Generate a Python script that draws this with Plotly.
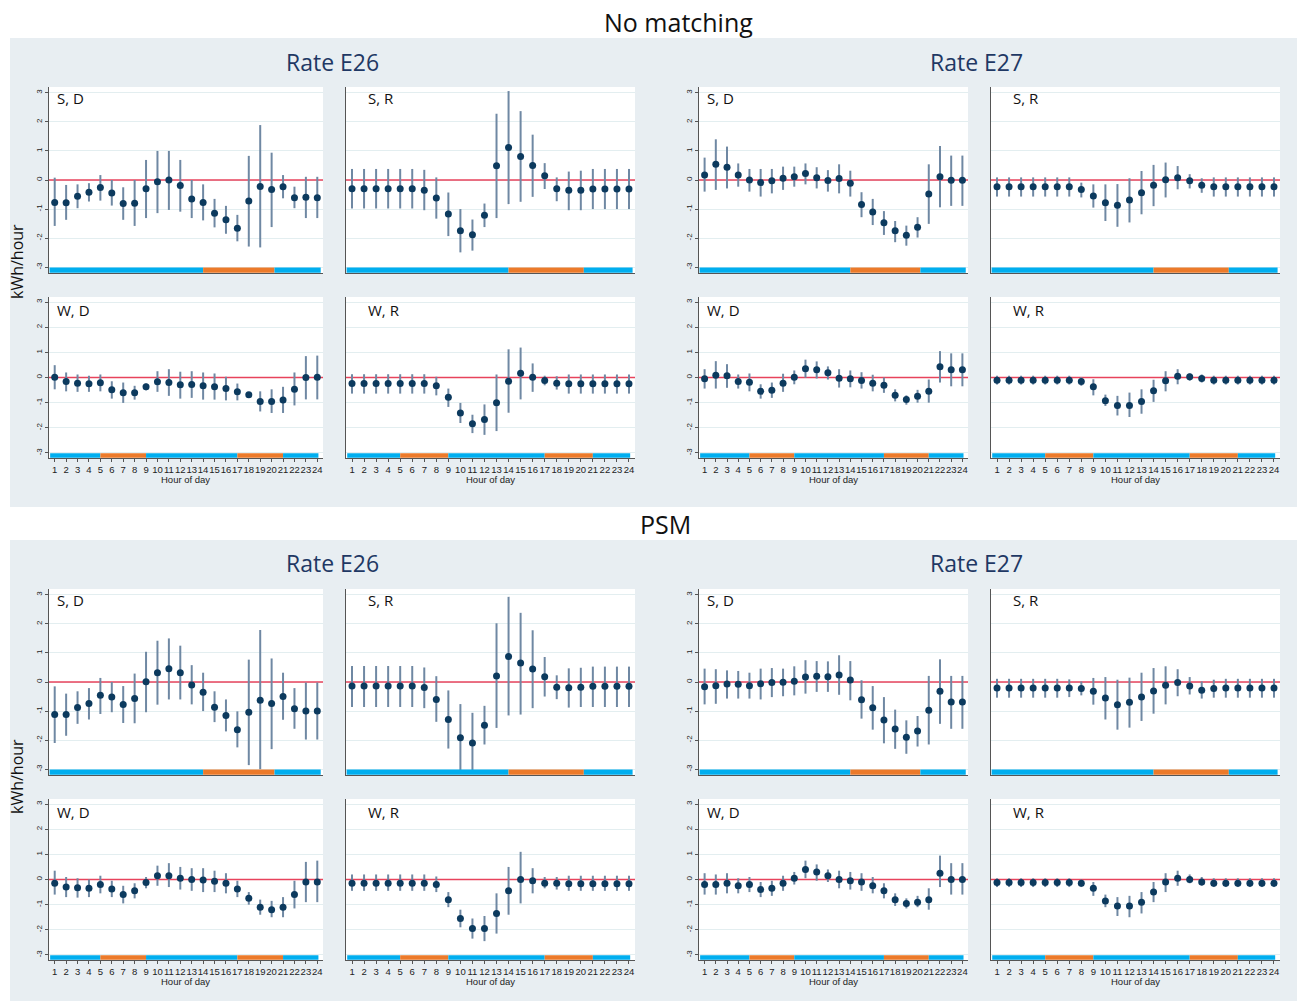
import numpy as np
import plotly.graph_objects as go

W, H = 1298, 1001
hours = list(range(1, 25))
hour_labels = [str(h) for h in hours]
y_ticks = [-3, -2, -1, 0, 1, 2, 3]
y_tick_labels = ["-3", "-2", "-1", "0", "1", "2", "3"]
x_span = [0.5, 24.5]
zero_ref = [0, 0]

section_titles = ["No matching", "PSM"]
rate_titles = ["Rate E26", "Rate E27"]
panel_labels = [["S, D", "S, R", "S, D", "S, R"], ["W, D", "W, R", "W, D", "W, R"]]

# Tariff periods (start hour, end hour, period)
summer_periods = [(0.55, 14.0, "off"), (14.0, 20.25, "on"), (20.25, 24.3, "off")]
winter_periods = [(0.6, 5.0, "off"), (5.0, 9.0, "on"), (9.0, 17.0, "off"), (17.0, 21.0, "on"), (21.0, 24.1, "off")]

# ---------------- No matching ----------------
nm_e26_sd_est = [-0.77, -0.78, -0.56, -0.42, -0.26, -0.45, -0.81, -0.80, -0.30, -0.06, 0.00, -0.19, -0.65, -0.77, -1.14, -1.37, -1.66, -0.72, -0.22, -0.33, -0.23, -0.61, -0.59, -0.61]
nm_e26_sd_lo = [-1.58, -1.37, -0.97, -0.74, -0.71, -0.88, -1.37, -1.58, -1.31, -1.14, -1.03, -1.09, -1.31, -1.39, -1.63, -1.85, -2.11, -2.29, -2.32, -1.62, -0.63, -0.97, -1.31, -1.31]
nm_e26_sd_hi = [0.08, -0.17, -0.15, -0.11, 0.17, 0.00, -0.25, 0.00, 0.69, 1.00, 1.00, 0.69, 0.00, -0.15, -0.65, -0.89, -1.20, 0.83, 1.89, 0.94, 0.17, -0.23, 0.11, 0.11]

nm_e26_sr_est = [-0.30, -0.30, -0.30, -0.30, -0.30, -0.30, -0.35, -0.62, -1.17, -1.75, -1.88, -1.21, 0.49, 1.12, 0.81, 0.50, 0.15, -0.30, -0.35, -0.35, -0.31, -0.31, -0.31, -0.31]
nm_e26_sr_lo = [-0.98, -0.98, -0.98, -0.98, -0.98, -0.98, -1.04, -1.33, -1.93, -2.49, -2.43, -1.62, -1.31, -0.83, -0.75, -0.58, -0.31, -0.73, -1.04, -1.04, -1.00, -1.00, -1.00, -1.00]
nm_e26_sr_hi = [0.38, 0.38, 0.38, 0.38, 0.38, 0.38, 0.35, 0.09, -0.43, -1.00, -1.36, -0.81, 2.28, 3.06, 2.37, 1.56, 0.58, 0.09, 0.29, 0.32, 0.38, 0.38, 0.38, 0.38]

nm_e27_sd_est = [0.17, 0.54, 0.44, 0.17, 0.00, -0.09, -0.03, 0.06, 0.11, 0.22, 0.08, -0.02, 0.05, -0.11, -0.84, -1.10, -1.47, -1.75, -1.90, -1.63, -0.48, 0.11, -0.01, -0.01]
nm_e27_sd_lo = [-0.40, -0.34, -0.29, -0.23, -0.40, -0.57, -0.46, -0.34, -0.23, -0.15, -0.29, -0.40, -0.46, -0.57, -1.28, -1.55, -1.89, -2.14, -2.26, -1.98, -1.51, -0.94, -0.89, -0.89]
nm_e27_sd_hi = [0.77, 1.40, 1.15, 0.57, 0.38, 0.38, 0.38, 0.46, 0.46, 0.57, 0.44, 0.34, 0.54, 0.32, -0.42, -0.65, -1.07, -1.41, -1.57, -1.28, 0.54, 1.17, 0.84, 0.84]

nm_e27_sr_est = [-0.23, -0.23, -0.23, -0.23, -0.23, -0.23, -0.23, -0.33, -0.55, -0.78, -0.87, -0.69, -0.44, -0.18, 0.01, 0.08, -0.03, -0.18, -0.23, -0.23, -0.23, -0.23, -0.23, -0.23]
nm_e27_sr_lo = [-0.57, -0.57, -0.57, -0.57, -0.57, -0.57, -0.57, -0.60, -0.95, -1.41, -1.61, -1.46, -1.18, -0.90, -0.60, -0.32, -0.29, -0.44, -0.57, -0.57, -0.57, -0.57, -0.57, -0.57]
nm_e27_sr_hi = [0.09, 0.09, 0.09, 0.09, 0.09, 0.09, 0.09, -0.09, -0.15, -0.15, -0.14, 0.06, 0.31, 0.52, 0.60, 0.48, 0.20, 0.06, 0.09, 0.09, 0.09, 0.09, 0.09, 0.09]

nm_e26_wd_est = [0.01, -0.16, -0.23, -0.25, -0.21, -0.49, -0.61, -0.61, -0.37, -0.17, -0.20, -0.29, -0.28, -0.33, -0.37, -0.44, -0.57, -0.69, -0.95, -0.95, -0.89, -0.47, 0.00, 0.01]
nm_e26_wd_lo = [-0.47, -0.55, -0.57, -0.57, -0.55, -0.84, -1.01, -0.88, -0.51, -0.57, -0.73, -0.84, -0.81, -0.88, -0.88, -0.91, -0.91, -0.80, -1.35, -1.41, -1.41, -1.11, -0.87, -0.87]
nm_e26_wd_hi = [0.49, 0.20, 0.12, 0.07, 0.12, -0.15, -0.20, -0.33, -0.24, 0.25, 0.33, 0.23, 0.25, 0.20, 0.16, 0.03, -0.24, -0.60, -0.55, -0.47, -0.37, 0.20, 0.85, 0.87]

nm_e26_wr_est = [-0.24, -0.24, -0.24, -0.24, -0.24, -0.24, -0.24, -0.33, -0.79, -1.41, -1.84, -1.67, -1.00, -0.15, 0.17, 0.01, -0.12, -0.23, -0.25, -0.25, -0.25, -0.25, -0.25, -0.25]
nm_e26_wr_lo = [-0.64, -0.64, -0.64, -0.64, -0.64, -0.64, -0.64, -0.71, -1.17, -1.81, -2.21, -2.28, -2.13, -1.40, -0.87, -0.57, -0.31, -0.48, -0.64, -0.64, -0.64, -0.64, -0.64, -0.64]
nm_e26_wr_hi = [0.13, 0.13, 0.13, 0.13, 0.13, 0.13, 0.13, 0.03, -0.44, -1.01, -1.48, -1.07, 0.12, 1.12, 1.19, 0.56, 0.07, 0.05, 0.12, 0.12, 0.12, 0.12, 0.12, 0.12]

nm_e27_wd_est = [-0.05, 0.09, 0.07, -0.16, -0.19, -0.55, -0.51, -0.23, 0.01, 0.35, 0.31, 0.19, -0.03, -0.05, -0.12, -0.23, -0.31, -0.71, -0.87, -0.75, -0.55, 0.43, 0.31, 0.31]
nm_e27_wd_lo = [-0.44, -0.44, -0.41, -0.44, -0.55, -0.84, -0.81, -0.57, -0.27, -0.01, -0.04, -0.08, -0.40, -0.39, -0.44, -0.55, -0.61, -0.95, -1.08, -1.00, -1.00, -0.20, -0.35, -0.35]
nm_e27_wd_hi = [0.33, 0.65, 0.53, 0.12, 0.16, -0.27, -0.20, 0.15, 0.28, 0.71, 0.64, 0.44, 0.33, 0.28, 0.21, 0.11, 0.00, -0.47, -0.71, -0.49, -0.08, 1.05, 0.96, 0.96]

nm_e27_wr_est = [-0.11, -0.11, -0.11, -0.11, -0.11, -0.11, -0.11, -0.16, -0.37, -0.92, -1.11, -1.11, -0.95, -0.53, -0.13, 0.05, 0.03, -0.04, -0.11, -0.11, -0.11, -0.11, -0.11, -0.11]
nm_e27_wr_lo = [-0.28, -0.28, -0.28, -0.28, -0.28, -0.28, -0.28, -0.33, -0.71, -1.13, -1.51, -1.57, -1.44, -0.97, -0.55, -0.27, -0.13, -0.20, -0.28, -0.28, -0.28, -0.28, -0.28, -0.28]
nm_e27_wr_hi = [0.07, 0.07, 0.07, 0.07, 0.07, 0.07, 0.07, 0.01, -0.07, -0.68, -0.73, -0.60, -0.47, -0.09, 0.25, 0.33, 0.16, 0.12, 0.07, 0.07, 0.07, 0.07, 0.07, 0.07]

# ---------------- PSM ----------------
psm_e26_sd_est = [-1.12, -1.12, -0.88, -0.74, -0.46, -0.52, -0.77, -0.57, 0.01, 0.32, 0.46, 0.32, -0.10, -0.35, -0.87, -1.15, -1.64, -1.04, -0.63, -0.74, -0.50, -0.92, -1.00, -1.00]
psm_e26_sd_lo = [-2.10, -1.85, -1.44, -1.29, -1.10, -1.04, -1.41, -1.42, -1.04, -0.78, -0.60, -0.60, -0.77, -1.00, -1.38, -1.70, -2.25, -2.86, -3.00, -2.31, -1.30, -1.61, -1.98, -1.98]
psm_e26_sd_hi = [-0.15, -0.40, -0.32, -0.21, 0.14, 0.00, -0.14, 0.29, 1.04, 1.42, 1.50, 1.25, 0.58, 0.32, -0.32, -0.60, -1.01, 0.77, 1.79, 0.81, 0.32, -0.21, -0.02, -0.02]

psm_e26_sr_est = [-0.14, -0.14, -0.14, -0.14, -0.14, -0.14, -0.19, -0.60, -1.29, -1.92, -2.10, -1.49, 0.21, 0.88, 0.65, 0.45, 0.18, -0.18, -0.20, -0.18, -0.15, -0.15, -0.15, -0.15]
psm_e26_sr_lo = [-0.86, -0.86, -0.86, -0.86, -0.86, -0.86, -0.90, -1.37, -2.29, -3.08, -3.13, -2.15, -1.58, -1.15, -1.12, -0.90, -0.50, -0.59, -0.88, -0.86, -0.86, -0.86, -0.86, -0.86]
psm_e26_sr_hi = [0.55, 0.55, 0.55, 0.55, 0.55, 0.55, 0.50, 0.20, -0.29, -0.76, -1.06, -0.82, 2.02, 2.93, 2.38, 1.78, 0.86, 0.23, 0.47, 0.49, 0.53, 0.53, 0.53, 0.53]

psm_e27_sd_est = [-0.16, -0.13, -0.07, -0.08, -0.13, -0.06, -0.02, -0.01, 0.03, 0.17, 0.20, 0.18, 0.24, 0.07, -0.61, -0.89, -1.31, -1.62, -1.90, -1.69, -0.97, -0.32, -0.69, -0.69]
psm_e27_sd_lo = [-0.77, -0.75, -0.57, -0.57, -0.57, -0.60, -0.52, -0.49, -0.46, -0.40, -0.34, -0.34, -0.44, -0.63, -1.26, -1.64, -2.11, -2.30, -2.47, -2.22, -2.15, -1.44, -1.61, -1.61]
psm_e27_sd_hi = [0.46, 0.44, 0.40, 0.38, 0.32, 0.46, 0.48, 0.46, 0.54, 0.75, 0.72, 0.71, 0.92, 0.72, 0.06, -0.14, -0.52, -0.95, -1.32, -1.17, 0.21, 0.78, 0.21, 0.21]

psm_e27_sr_est = [-0.21, -0.21, -0.21, -0.21, -0.21, -0.21, -0.21, -0.22, -0.32, -0.55, -0.78, -0.70, -0.52, -0.31, -0.11, -0.02, -0.14, -0.28, -0.22, -0.21, -0.21, -0.21, -0.21, -0.21]
psm_e27_sr_lo = [-0.54, -0.54, -0.54, -0.54, -0.54, -0.54, -0.52, -0.46, -0.78, -1.29, -1.64, -1.57, -1.34, -1.09, -0.77, -0.49, -0.43, -0.57, -0.54, -0.54, -0.54, -0.54, -0.54, -0.54]
psm_e27_sr_hi = [0.11, 0.11, 0.11, 0.11, 0.11, 0.11, 0.09, 0.02, 0.14, 0.17, 0.08, 0.15, 0.32, 0.48, 0.54, 0.44, 0.17, 0.02, 0.08, 0.11, 0.11, 0.11, 0.11, 0.11]

psm_e26_wd_est = [-0.15, -0.30, -0.33, -0.35, -0.20, -0.38, -0.60, -0.45, -0.12, 0.15, 0.15, 0.05, 0.00, -0.02, -0.07, -0.15, -0.38, -0.75, -1.10, -1.20, -1.10, -0.60, -0.10, -0.10]
psm_e26_wd_lo = [-0.60, -0.70, -0.72, -0.70, -0.55, -0.70, -0.95, -0.75, -0.35, -0.25, -0.30, -0.40, -0.45, -0.50, -0.50, -0.55, -0.70, -1.00, -1.40, -1.50, -1.50, -1.15, -0.90, -0.90]
psm_e26_wd_hi = [0.35, 0.10, 0.05, 0.00, 0.15, -0.05, -0.25, -0.15, 0.10, 0.55, 0.65, 0.50, 0.45, 0.45, 0.35, 0.25, -0.05, -0.50, -0.80, -0.85, -0.70, -0.05, 0.70, 0.75]

psm_e26_wr_est = [-0.15, -0.15, -0.15, -0.15, -0.15, -0.15, -0.15, -0.20, -0.80, -1.55, -1.95, -1.95, -1.35, -0.45, 0.00, -0.05, -0.15, -0.15, -0.17, -0.17, -0.17, -0.17, -0.17, -0.17]
psm_e26_wr_lo = [-0.45, -0.45, -0.45, -0.45, -0.45, -0.45, -0.45, -0.50, -1.10, -1.90, -2.35, -2.45, -2.15, -1.40, -0.95, -0.55, -0.35, -0.40, -0.45, -0.45, -0.45, -0.45, -0.45, -0.45]
psm_e26_wr_hi = [0.20, 0.20, 0.20, 0.20, 0.20, 0.20, 0.20, 0.12, -0.50, -1.20, -1.55, -1.45, -0.55, 0.50, 1.10, 0.45, 0.10, 0.10, 0.15, 0.15, 0.15, 0.15, 0.15, 0.15]

psm_e27_wd_est = [-0.20, -0.20, -0.15, -0.25, -0.20, -0.40, -0.35, -0.15, 0.05, 0.40, 0.30, 0.15, 0.00, -0.05, -0.10, -0.25, -0.45, -0.80, -0.95, -0.90, -0.80, 0.25, 0.00, 0.00]
psm_e27_wd_lo = [-0.60, -0.60, -0.55, -0.55, -0.50, -0.70, -0.65, -0.45, -0.20, 0.05, -0.05, -0.10, -0.35, -0.40, -0.45, -0.55, -0.75, -1.05, -1.15, -1.10, -1.20, -0.30, -0.60, -0.60]
psm_e27_wd_hi = [0.25, 0.20, 0.25, 0.05, 0.10, -0.10, -0.05, 0.15, 0.30, 0.75, 0.60, 0.40, 0.35, 0.30, 0.25, 0.10, -0.15, -0.55, -0.75, -0.65, -0.35, 0.95, 0.65, 0.65]

psm_e27_wr_est = [-0.12, -0.12, -0.12, -0.12, -0.12, -0.12, -0.12, -0.15, -0.35, -0.85, -1.05, -1.05, -0.90, -0.50, -0.10, 0.05, 0.00, -0.10, -0.15, -0.15, -0.15, -0.15, -0.15, -0.15]
psm_e27_wr_lo = [-0.30, -0.30, -0.30, -0.30, -0.30, -0.30, -0.30, -0.30, -0.65, -1.10, -1.45, -1.50, -1.35, -0.90, -0.50, -0.25, -0.15, -0.25, -0.30, -0.30, -0.30, -0.30, -0.30, -0.30]
psm_e27_wr_hi = [0.05, 0.05, 0.05, 0.05, 0.05, 0.05, 0.05, 0.00, -0.10, -0.60, -0.70, -0.65, -0.50, -0.10, 0.25, 0.35, 0.20, 0.10, 0.05, 0.05, 0.05, 0.05, 0.05, 0.05]

# panel table: [half][row][col] -> (est, lo, hi)
panel_data = [
    [
        [(nm_e26_sd_est, nm_e26_sd_lo, nm_e26_sd_hi), (nm_e26_sr_est, nm_e26_sr_lo, nm_e26_sr_hi),
         (nm_e27_sd_est, nm_e27_sd_lo, nm_e27_sd_hi), (nm_e27_sr_est, nm_e27_sr_lo, nm_e27_sr_hi)],
        [(nm_e26_wd_est, nm_e26_wd_lo, nm_e26_wd_hi), (nm_e26_wr_est, nm_e26_wr_lo, nm_e26_wr_hi),
         (nm_e27_wd_est, nm_e27_wd_lo, nm_e27_wd_hi), (nm_e27_wr_est, nm_e27_wr_lo, nm_e27_wr_hi)],
    ],
    [
        [(psm_e26_sd_est, psm_e26_sd_lo, psm_e26_sd_hi), (psm_e26_sr_est, psm_e26_sr_lo, psm_e26_sr_hi),
         (psm_e27_sd_est, psm_e27_sd_lo, psm_e27_sd_hi), (psm_e27_sr_est, psm_e27_sr_lo, psm_e27_sr_hi)],
        [(psm_e26_wd_est, psm_e26_wd_lo, psm_e26_wd_hi), (psm_e26_wr_est, psm_e26_wr_lo, psm_e26_wr_hi),
         (psm_e27_wd_est, psm_e27_wd_lo, psm_e27_wd_hi), (psm_e27_wr_est, psm_e27_wr_lo, psm_e27_wr_hi)],
    ],
]

# ---------------- layout geometry (pixels) ----------------
col_px = [(49, 323), (346, 635), (699, 968), (991, 1280)]
row_px = [[(87, 273), (297, 458)], [(589, 775), (799, 960)]]
half_bg_px = [(10, 38, 1297, 507), (10, 540, 1297, 1001)]
title_y = [22, 524]
rate_y = [62, 563]
rate_x = [332, 977]
ylabel_y = [262, 777]

BG = "#e8eef2"
BLUE = "#00aeef"
ORANGE = "#ec7a2a"
MARK = "#0c3a5e"
ERR = "#6f88a3"
RED = "#e8435c"
GRID = "#e3eef0"
TICKFONT = "Liberation Sans"
HEADFONT = "Open Sans"

def px_x(p):
    return p / W

def px_y(p):
    return 1 - p / H

fig = go.Figure()
shapes = []
annotations = []
layout_axes = {}

# gray half panels
for (x0, y0, x1, y1) in half_bg_px:
    shapes.append(dict(type="rect", xref="paper", yref="paper", x0=px_x(x0), x1=px_x(x1),
                       y0=px_y(y1), y1=px_y(y0), fillcolor=BG, line=dict(width=0), layer="below"))

idx = 0
for h in range(2):
    for r in range(2):
        for c in range(4):
            idx += 1
            xs = "" if idx == 1 else str(idx)
            xname, yname = "x" + xs, "y" + xs
            x0, x1 = col_px[c]
            y0, y1 = row_px[h][r]
            # white plot region
            shapes.append(dict(type="rect", xref="paper", yref="paper", x0=px_x(x0), x1=px_x(x1),
                               y0=px_y(y1), y1=px_y(y0), fillcolor="white", line=dict(width=0), layer="below"))
            show_y = c in (0, 2)
            layout_axes["xaxis" + xs] = dict(
                domain=[px_x(x0), px_x(x1)], range=x_span, anchor=yname,
                showgrid=False, zeroline=False, showline=True, linecolor="#555", linewidth=1,
                tickmode="array", tickvals=hours, ticktext=hour_labels, tickangle=0,
                showticklabels=(r == 1), ticks="outside" if r == 1 else "", ticklen=3, tickcolor="#555",
                tickfont=dict(family=TICKFONT, size=9.5, color="#222"), fixedrange=True,
            )
            layout_axes["yaxis" + xs] = dict(
                domain=[px_y(y1), px_y(y0)], range=[-3.2, 3.2], anchor=xname,
                showgrid=True, gridcolor=GRID, gridwidth=1, zeroline=False,
                showline=True, linecolor="#555", linewidth=1,
                tickmode="array", tickvals=y_ticks, ticktext=y_tick_labels,
                showticklabels=show_y, ticks="outside" if show_y else "", ticklen=3, tickcolor="#555",
                tickangle=-90, tickfont=dict(family=TICKFONT, size=8, color="#222"), fixedrange=True,
            )
            # zero reference line
            fig.add_trace(go.Scatter(
                x=x_span, y=zero_ref, mode="lines", xaxis=xname, yaxis=yname, showlegend=False,
                line=dict(color=RED, width=1.4), hoverinfo="skip",
            ))
            est, lo, hi = panel_data[h][r][c]
            est_a = np.array(est)
            up = np.clip(np.array(hi) - est_a, 0, None)
            dn = np.clip(est_a - np.array(lo), 0, None)
            fig.add_trace(go.Scatter(
                x=hours, y=est, mode="markers", xaxis=xname, yaxis=yname, showlegend=False,
                marker=dict(size=7, color=MARK),
                error_y=dict(type="data", symmetric=False, array=up, arrayminus=dn,
                             width=0, thickness=2, color=ERR),
            ))
            # tariff period bars
            periods = summer_periods if r == 0 else winter_periods
            for (a, b, kind) in periods:
                shapes.append(dict(type="rect", xref=xname, yref=yname, x0=a, x1=b, y0=-3.19, y1=-3.01,
                                   fillcolor=ORANGE if kind == "on" else BLUE, line=dict(width=0), layer="above"))
            # panel label
            lab_x = x0 + (6 if c in (0, 2) else 20)
            lab_y = y0 + (11 if r == 0 else 13)
            annotations.append(dict(text=panel_labels[r][c], xref="paper", yref="paper",
                                    x=px_x(lab_x), y=px_y(lab_y), xanchor="left", yanchor="middle",
                                    showarrow=False, font=dict(family=HEADFONT, size=15, color="#111")))
            if r == 1:
                annotations.append(dict(text="Hour of day", xref="paper", yref="paper",
                                        x=px_x((x0 + x1) / 2), y=px_y(y1 + 21), xanchor="center", yanchor="middle",
                                        showarrow=False, font=dict(family=TICKFONT, size=9.5, color="#222")))

for h in range(2):
    annotations.append(dict(text=section_titles[h], xref="paper", yref="paper", x=px_x(678 if h == 0 else 665),
                            y=px_y(title_y[h]), xanchor="center", yanchor="middle", showarrow=False,
                            font=dict(family=HEADFONT, size=25, color="#111")))
    for k in range(2):
        annotations.append(dict(text=rate_titles[k], xref="paper", yref="paper", x=px_x(rate_x[k]),
                                y=px_y(rate_y[h]), xanchor="center", yanchor="middle", showarrow=False,
                                font=dict(family=HEADFONT, size=23, color="#1f3864")))
    annotations.append(dict(text="kWh/hour", xref="paper", yref="paper", x=px_x(17), y=px_y(ylabel_y[h]),
                            xanchor="center", yanchor="middle", textangle=-90, showarrow=False,
                            font=dict(family=HEADFONT, size=16, color="#111")))

fig.update_layout(
    width=W, height=H, margin=dict(l=0, r=0, t=0, b=0),
    paper_bgcolor="white", plot_bgcolor="rgba(0,0,0,0)",
    shapes=shapes, annotations=annotations, showlegend=False,
    **layout_axes,
)

fig.write_html("out.html", config={"displayModeBar": False},
               post_script="document.body.style.margin='0';document.body.style.overflow='hidden';")
